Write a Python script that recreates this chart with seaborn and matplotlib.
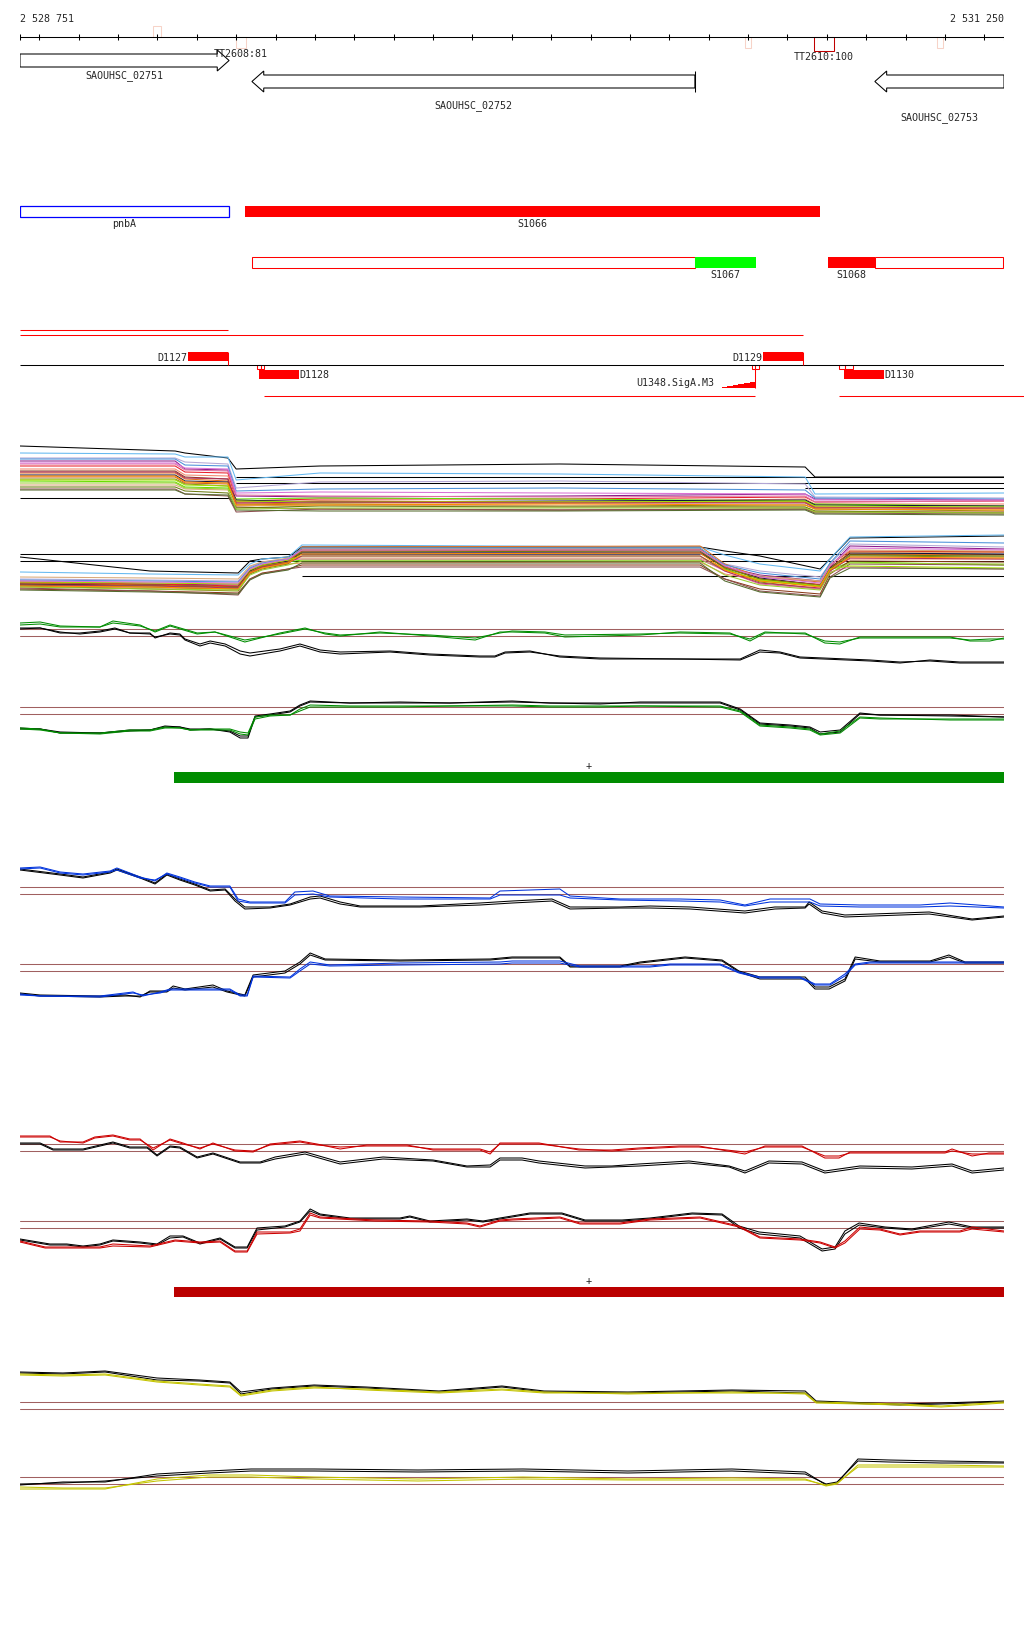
import matplotlib
matplotlib.use("Agg")
import matplotlib.pyplot as plt
from matplotlib.patches import Rectangle, Polygon
import numpy as np
import pandas as pd
import seaborn as sns

START, END = 2528751, 2531250

# ---------------- annotation data (bp) ----------------
term_labels = ["", "TT2608:81", "", "TT2610:100", ""]
term_start = [2529089, 2529300, 2530592, 2530767, 2531080]
term_end = [2529109, 2529325, 2530607, 2530818, 2531095]
term_strong = [False, False, False, True, False]

gene_names = ["SAOUHSC_02751", "SAOUHSC_02752", "SAOUHSC_02753"]
gene_start = [2528751, 2529340, 2530922]
gene_end = [2529282, 2530465, 2531250]
gene_strand = ["+", "-", "-"]

feat_names = ["pnbA", "S1066", "S1067", "S1068"]
feat_start = [2528751, 2529322, 2530465, 2530803]
feat_end = [2529282, 2530783, 2530620, 2530922]
feat_ext_start = [None, None, 2529340, 2530922]
feat_ext_end = [None, None, 2530465, 2531247]

seg_names = ["D1127", "D1128", "D1129", "D1130"]
seg_start = [2529178, 2529358, 2530638, 2530844]
seg_end = [2529279, 2529460, 2530740, 2530945]
seg_strand = ["+", "-", "+", "-"]
probe_start = [2529353, 2529362, 2530610, 2530618, 2530831, 2530846]
probe_end = [2529362, 2529371, 2530618, 2530628, 2530846, 2530866]

motif_name = "U1348.SigA.M3"
motif_pos = [2530519, 2530533, 2530547, 2530561, 2530575, 2530590, 2530604, 2530618]
motif_score = [0.05, 0.15, 0.3, 0.4, 0.55, 0.65, 0.9, 0.9]

tu_start = [2528751, 2528751, 2529371, 2530831]
tu_end = [2529279, 2530740, 2530618, 2531301]

bar_start, bar_end = 2529142, 2531250

# ---------------- expression panels (offset bp, log-signal) ----------------
a_x = [0, 394, 419, 528, 549, 762, 1371, 1994, 2019, 2499]
a_black = [53, 48, 46, 41, 30, 33, 35, 32, 22, 22]
a_lines = [
    [46, 45, 42, 42, 19, 26, 25, 22, 5, 6],
    [41, 41, 37, 35, 11, 17, 18, 15, 2, 1],
    [38, 38, 30, 29, 3, 2, 3, 5, 0, -1],
    [33, 33, 27, 26, -2, 0, 0, 2, -3, -2],
    [30, 30, 24, 23, -3, -2, -3, 0, -5, -5],
    [26, 26, 20, 18, -5, -4, -4, -3, -8, -10],
    [20, 20, 15, 13, -6, -5, -7, -6, -10, -12],
    [18, 17, 12, 11, 0, 1, 0, -2, -5, -7],
    [24, 24, 18, 17, -1, -3, -2, -1, -6, -7],
    [28, 28, 22, 20, -8, -10, -11, -10, -13, -13],
    [35, 35, 29, 28, 4, 3, 2, 3, -3, -2],
    [14, 14, 10, 9, -7, -6, -7, -8, -12, -13],
    [22, 22, 16, 15, -3, -2, -3, -3, -8, -9],
    [12, 12, 8, 6, -9, -7, -8, -8, -12, -14],
    [10, 10, 5, 3, -13, -10, -11, -10, -14, -15],
    [19, 19, 14, 13, -2, -3, -3, -2, -7, -8],
    [40, 40, 34, 33, 8, 10, 11, 9, 1, 0],
    [27, 27, 21, 20, -4, -3, -4, -4, -9, -9],
    [23, 23, 17, 16, -6, -6, -5, -6, -10, -11],
    [9, 9, 5, 4, -11, -12, -12, -11, -15, -16],
    [36, 36, 31, 30, 6, 7, 6, 5, -1, -1],
    [16, 16, 11, 10, -10, -9, -9, -9, -13, -14],
]
a_ref = [1, 22, 16, 11]
a_ref_from = [0, 549, 549, 1994]
a_ref_to = [533, 2499, 2499, 2499]

b_x = [0, 330, 554, 584, 615, 681, 716, 1727, 1790, 1879, 2032, 2057, 2108, 2499]
b_black = [2, -12, -14, -2, 0, 2, 12, 12, 8, 3, -10, 0, 21, 23]
b_lines = [
    [-13, -15, -16, -5, 0, 2, 14, 12, 4, -5, -12, 0, 22, 24],
    [-20, -21, -22, -8, -3, 0, 5, 5, -5, -12, -18, -5, 15, 12],
    [-24, -25, -26, -12, -6, -2, 7, 7, -8, -16, -22, -8, 13, 10],
    [-23, -25, -27, -11, -7, -1, 8, 9, -7, -20, -26, -6, 8, 7],
    [-28, -29, -30, -14, -9, -5, -4, -3, -15, -21, -25, -10, 0, 0],
    [-25, -26, -28, -12, -8, -3, 12, 13, -5, -18, -23, -8, 5, 4],
    [-27, -30, -32, -15, -10, -5, 9, 9, -10, -23, -30, -12, 3, 2],
    [-26, -27, -28, -13, -7, -3, -1, -1, -10, -22, -27, -11, -3, -6],
    [-25, -26, -28, -12, -6, -2, 6, 6, -8, -19, -26, -9, 6, 5],
    [-30, -32, -34, -20, -14, -10, -6, -6, -20, -30, -35, -15, -2, -3],
    [-22, -24, -25, -10, -5, -1, 0, 0, -12, -25, -30, -13, -8, -10],
    [-18, -19, -20, -7, -3, 1, 1, 1, -9, -17, -22, -6, 9, 8],
    [-24, -26, -28, -13, -7, -3, 10, 10, -8, -20, -26, -10, 7, 7],
    [-26, -28, -30, -14, -8, -4, 7, 8, -9, -20, -27, -10, 4, 3],
    [-29, -32, -36, -20, -15, -10, -8, -8, -20, -32, -37, -18, -5, -6],
    [-23, -24, -25, -11, -6, -1, 3, 3, -11, -21, -27, -10, -7, -9],
    [-21, -22, -23, -9, -4, 0, 11, 11, -6, -14, -20, -4, 18, 16],
    [-26, -27, -29, -14, -8, -4, 3, 3, -12, -24, -29, -12, 1, 0],
    [-27, -28, -30, -14, -9, -4, 5, 6, -11, -22, -28, -11, 2, 1],
    [-31, -33, -35, -21, -15, -11, -4, -4, -22, -33, -38, -19, -9, -10],
    [-22, -23, -24, -10, -5, 0, 9, 9, -7, -18, -24, -7, 11, 9],
    [-28, -30, -31, -16, -11, -6, -2, -2, -16, -26, -31, -14, -4, -5],
]
b_ref = [5, -2, -17]
b_ref_from = [0, 0, 716]
b_ref_to = [2499, 2499, 2499]

multi_colors = ["#63b8f0", "#b4a7d6", "#8b1a89", "#e8202a", "#f4866c", "#e07020",
                "#8a8a10", "#66dd00", "#101040", "#8b3a1a", "#e070a0", "#d8a878",
                "#c8641e", "#6b7a10", "#8c5050", "#a0e000", "#4a90d9", "#b03060",
                "#ff8c00", "#556b2f", "#da70d6", "#9acd32"]

c_xc = [0, 51, 102, 203, 236, 305, 343, 381, 450, 495, 571, 660, 724, 775, 813, 914, 1041, 1156,
        1219, 1250, 1333, 1384, 1575, 1676, 1803, 1854, 1892, 1994, 2044, 2082, 2133, 2362, 2413,
        2463, 2499]
c_col1 = [6, 7, 3, 2, 8, 4, -3, 3, -5, -3, -13, -4, 1, -5, -7, -3, -7, -11, -3, -3, -4, -8, -6,
          -3, -4, -12, -4, -4, -14, -15, -8, -8, -12, -12, -9]
c_col2 = [4, 5, 2, 2, 6, 3, -2, 4, -4, -3, -11, -5, 0, -4, -6, -4, -6, -9, -4, -2, -3, -6, -5,
          -4, -5, -10, -3, -5, -12, -13, -9, -9, -11, -10, -10]
c_xk = [0, 51, 102, 152, 203, 241, 279, 330, 343, 381, 406, 419, 457, 483, 521, 559, 584, 660, 711,
        762, 813, 940, 1041, 1168, 1206, 1232, 1295, 1371, 1473, 1676, 1829, 1879, 1930, 1981,
        2159, 2235, 2311, 2387, 2499]
c_blk1 = [1, 1, -4, -4, -2, 1, -4, -4, -9, -4, -5, -10, -15, -12, -15, -22, -24, -20, -15, -21,
          -23, -22, -25, -27, -27, -23, -22, -28, -30, -30, -31, -23, -24, -29, -32, -34, -31,
          -33, -33]
c_blk2 = [0, 1, -3, -5, -3, 0, -4, -5, -8, -5, -6, -11, -17, -14, -17, -25, -27, -22, -17, -23,
          -25, -23, -26, -28, -28, -24, -23, -27, -29, -30, -30, -21, -23, -28, -31, -33, -32,
          -34, -34]

d_x = [0, 51, 102, 203, 279, 330, 368, 406, 432, 483, 533, 559, 579, 597, 635, 686, 711, 737, 838,
       965, 1092, 1250, 1346, 1473, 1575, 1778, 1829, 1879, 1956, 2006, 2032, 2083, 2133, 2184,
       2362, 2499]
d_blk1 = [-22, -22, -26, -26, -23, -23, -19, -20, -23, -22, -24, -29, -29, -9, -7, -4, 2, 6, 4, 5,
          4, 6, 4, 3, 5, 5, -2, -16, -18, -20, -25, -23, -6, -8, -8, -10]
d_blk2 = [-21, -22, -25, -26, -24, -23, -20, -20, -22, -22, -25, -31, -31, -10, -8, -5, 1, 5, 4, 4,
          4, 5, 4, 4, 4, 4, -3, -17, -19, -21, -27, -25, -7, -8, -9, -10]
d_col1 = [-21, -22, -26, -26, -23, -23, -20, -21, -23, -22, -22, -25, -26, -10, -8, -8, -2, 2, 1,
          1, 1, 2, 1, 1, 1, 1, -4, -18, -20, -22, -27, -24, -10, -11, -13, -13]
d_col2 = [-22, -23, -26, -27, -24, -24, -21, -21, -23, -23, -23, -27, -28, -12, -9, -8, -4, 0, 0,
          0, 1, 1, 0, 0, 1, 0, -5, -19, -21, -23, -28, -26, -11, -12, -12, -12]

e_xc = [0, 51, 102, 160, 229, 246, 305, 343, 373, 406, 444, 483, 533, 554, 584, 673, 698, 744, 787,
        965, 1194, 1219, 1371, 1397, 1524, 1676, 1778, 1841, 1905, 2006, 2032, 2133, 2286, 2362,
        2499]
e_col1 = [19, 20, 15, 13, 16, 19, 10, 6, 14, 10, 5, 1, 1, -12, -15, -15, -5, -4, -9, -10, -11, -4,
          -2, -9, -12, -12, -13, -18, -12, -12, -17, -18, -18, -16, -20]
e_col2 = [18, 19, 14, 12, 15, 17, 9, 7, 13, 9, 4, 0, 0, -14, -16, -16, -8, -7, -10, -12, -12, -8,
          -8, -11, -13, -14, -15, -19, -15, -15, -19, -20, -20, -19, -21]
e_xk = [0, 102, 160, 229, 246, 305, 343, 373, 406, 444, 483, 521, 546, 571, 635, 686, 737, 762,
        813, 864, 1016, 1168, 1250, 1351, 1397, 1524, 1600, 1702, 1841, 1917, 1994, 2004, 2037,
        2095, 2309, 2418, 2499]
e_blk1 = [18, 13, 10, 15, 18, 10, 4, 13, 8, 3, -3, -2, -12, -20, -20, -17, -10, -9, -15, -19, -19,
          -16, -14, -12, -20, -20, -19, -20, -24, -20, -20, -15, -24, -28, -25, -32, -29]
e_blk2 = [17, 12, 9, 14, 17, 9, 3, 12, 7, 2, -4, -3, -14, -22, -21, -18, -12, -11, -17, -20, -20,
          -18, -16, -14, -22, -21, -21, -22, -26, -22, -21, -17, -26, -30, -27, -33, -30]

f_xk = [0, 51, 203, 267, 305, 330, 373, 389, 419, 490, 526, 571, 592, 673, 711, 737, 775, 965,
        1194, 1250, 1371, 1397, 1524, 1575, 1689, 1783, 1826, 1879, 1994, 2019, 2055, 2095, 2121,
        2184, 2311, 2359, 2400, 2499]
f_blk1 = [-29, -31, -32, -31, -33, -27, -27, -22, -25, -21, -27, -31, -11, -7, 2, 11, 5, 4, 5, 7,
          7, -2, -2, 2, 7, 4, -7, -13, -13, -23, -23, -15, 7, 3, 3, 9, 2, 2]
f_blk2 = [-30, -32, -33, -32, -32, -28, -28, -24, -26, -23, -28, -32, -13, -9, 0, 9, 4, 3, 4, 6,
          6, -3, -3, 1, 6, 3, -8, -15, -15, -25, -25, -17, 5, 2, 2, 7, 1, 1]
f_xc = [0, 51, 203, 287, 312, 356, 381, 533, 559, 577, 592, 686, 711, 737, 787, 965, 1219, 1250,
        1371, 1422, 1600, 1651, 1778, 1826, 1879, 1981, 2019, 2057, 2095, 2121, 2159, 2499]
f_col1 = [-30, -32, -32, -28, -32, -28, -25, -25, -31, -31, -12, -13, -5, 2, -1, 1, 2, 3, 3, -2,
          -2, 0, 0, -8, -13, -13, -20, -20, -10, 0, 2, 2]
f_col2 = [-31, -32, -33, -29, -31, -29, -26, -26, -32, -32, -13, -14, -7, 0, -2, -1, 0, 1, 1, -3,
          -3, -1, -1, -9, -14, -14, -21, -21, -12, -1, 1, 1]

g_xc = [0, 76, 102, 160, 190, 236, 279, 305, 338, 381, 414, 457, 490, 546, 592, 635, 711, 754,
        813, 881, 983, 1049, 1168, 1194, 1219, 1318, 1420, 1503, 1572, 1674, 1724, 1841, 1892,
        1986, 2044, 2080, 2108, 2349, 2367, 2418, 2461, 2499]
g_col1 = [8, 8, 2, 2, 7, 9, 5, 5, -6, 5, 1, -5, 1, -7, -8, 0, 3, 0, -5, -1, -1, -6, -6, -10, 1, 1,
          -6, -6, -4, -2, -2, -10, -2, -2, -14, -14, -8, -8, -5, -12, -9, -9]
g_col2 = [7, 7, 3, 1, 6, 8, 4, 4, -4, 4, 0, -4, 0, -6, -7, -1, 2, -1, -3, -2, -2, -5, -5, -8, 0, 0,
          -5, -7, -5, -3, -3, -8, -3, -3, -12, -12, -9, -9, -7, -10, -10, -10]
g_xk = [0, 51, 84, 160, 236, 279, 323, 348, 381, 406, 450, 490, 559, 610, 648, 724, 795, 813, 922,
        1049, 1135, 1194, 1219, 1275, 1318, 1435, 1503, 1572, 1699, 1801, 1841, 1902, 1986, 2044,
        2133, 2265, 2367, 2418, 2499]
g_blk1 = [1, 1, -5, -5, 2, -3, -3, -11, -2, -3, -13, -9, -18, -18, -13, -8, -16, -18, -13, -16,
          -22, -21, -14, -14, -17, -22, -22, -20, -17, -22, -27, -17, -18, -27, -22, -23, -20, -27,
          -24]
g_blk2 = [0, 0, -6, -6, 1, -4, -4, -12, -3, -4, -14, -10, -19, -19, -15, -10, -18, -20, -15, -17,
          -23, -23, -16, -16, -19, -24, -23, -22, -19, -23, -29, -19, -20, -29, -24, -25, -22, -29,
          -26]

h_xk = [0, 76, 119, 160, 203, 236, 305, 348, 381, 414, 457, 508, 546, 577, 602, 673, 711, 737, 762,
        838, 965, 990, 1041, 1135, 1176, 1219, 1295, 1376, 1435, 1529, 1600, 1707, 1783, 1826,
        1877, 1981, 2037, 2070, 2095, 2131, 2197, 2265, 2359, 2418, 2499]
h_blk1 = [-18, -23, -23, -25, -23, -19, -21, -23, -15, -15, -22, -17, -26, -26, -7, -5, 0, 12, 7,
          3, 3, 5, 0, 2, 0, 3, 8, 8, 1, 1, 3, 8, 7, -5, -11, -15, -28, -26, -10, -2, -6, -8, -1,
          -6, -6]
h_blk2 = [-19, -24, -24, -26, -24, -20, -22, -24, -17, -16, -23, -18, -27, -27, -9, -6, -1, 10, 6,
          2, 2, 4, -1, 1, -1, 2, 7, 7, 0, 0, 2, 7, 6, -7, -13, -17, -30, -28, -13, -4, -7, -9, -3,
          -7, -7]
h_xc = [0, 64, 203, 236, 330, 394, 457, 508, 546, 577, 602, 686, 711, 737, 762, 902, 1041, 1135,
        1168, 1219, 1250, 1371, 1422, 1524, 1600, 1727, 1826, 1879, 1981, 2032, 2070, 2095, 2133,
        2184, 2235, 2286, 2387, 2418, 2499]
h_col1 = [-20, -26, -26, -23, -25, -19, -21, -20, -30, -30, -11, -11, -8, 8, 4, 1, 0, -2, -5, 1, 2,
          4, -2, -2, 2, 4, -5, -16, -18, -21, -26, -20, -6, -8, -13, -10, -10, -6, -10]
h_col2 = [-21, -27, -27, -25, -26, -20, -22, -21, -31, -31, -13, -12, -10, 6, 3, 0, -1, -3, -6, 0,
          1, 3, -3, -3, 1, 3, -6, -17, -19, -22, -27, -22, -8, -9, -14, -11, -11, -8, -11]

i_x = [0, 109, 216, 348, 455, 533, 561, 640, 747, 879, 1064, 1224, 1331, 1544, 1808, 1994, 2022,
       2235, 2339, 2499]
i_blk1 = [30, 29, 31, 24, 22, 20, 10, 14, 17, 15, 11, 16, 11, 10, 12, 11, 1, -2, -1, 1]
i_blk2 = [29, 28, 30, 22, 21, 19, 8, 13, 16, 14, 10, 15, 10, 9, 11, 9, 0, -3, -2, 0]
i_col1 = [27, 26, 27, 20, 17, 15, 6, 11, 14, 13, 10, 13, 10, 8, 10, 8, -1, -3, -5, -1]
i_col2 = [28, 27, 28, 21, 18, 16, 7, 12, 15, 12, 9, 12, 9, 9, 9, 9, 0, -2, -4, 0]

j_x = [0, 109, 216, 348, 480, 587, 747, 1011, 1277, 1544, 1808, 1994, 2047, 2075, 2128, 2207, 2339,
       2499]
j_blk1 = [-8, -5, -5, 3, 6, 8, 8, 7, 8, 6, 8, 5, -8, -6, 18, 17, 16, 15]
j_blk2 = [-7, -6, -4, 1, 4, 6, 6, 5, 6, 4, 6, 3, -7, -5, 16, 15, 14, 14]
j_col1 = [-12, -12, -12, -2, 2, 2, 0, -2, 0, -2, -1, -2, -9, -7, 12, 12, 12, 11]
j_col2 = [-10, -11, -11, -4, 0, 0, -2, -4, -2, -3, -3, -3, -8, -6, 10, 10, 10, 10]

# ---------------- drawing ----------------
sns.set_theme(style="white")
plt.rcParams["font.family"] = ["DejaVu Sans Mono"]
FS = 7.2
LW = 0.75
W, H = 1024, 1640
X0, X1 = 20, 1004

fig = plt.figure(figsize=(W / 100, H / 100), dpi=100)

ann = fig.add_axes([X0 / W, 0, (X1 - X0) / W, 1])
ann.set_xlim(START, END)
ann.set_ylim(H, 0)
ann.axis("off")

# ruler
ann.hlines(38, START, END, color="black", lw=LW)
ticks = [START] + list(range(2528800, END, 100)) + [END]
ann.vlines(ticks, 35, 41, color="black", lw=LW)
ann.text(START, 19, f"{START:,}".replace(",", " "), fontsize=FS, ha="left", va="center")
ann.text(END, 19, f"{END:,}".replace(",", " "), fontsize=FS, ha="right", va="center")
for i, (s, e) in enumerate(zip(term_start, term_end)):
    if i == 0:
        top, h = 27, 11
    elif term_strong[i]:
        top, h = 38, 14
    else:
        top, h = 38, 11
    col = "#c00000" if term_strong[i] else "#f7d3c8"
    ann.add_patch(Rectangle((s, top), e - s, h, fill=False, ec=col, lw=LW))
    if term_labels[i]:
        ann.text((s + e) / 2, top + h + 5, term_labels[i], fontsize=FS, ha="center", va="center")

# genes
gene_rows = [(55, 68), (76, 89), (76, 89)]
label_rows = [76, 106, 118]
head = 30
for i, name in enumerate(gene_names):
    s, e = gene_start[i], gene_end[i]
    t, b = gene_rows[i]
    m = (t + b) / 2
    if gene_strand[i] == "+":
        pts = [(s, t), (e - head, t), (e - head, t - 4), (e, m), (e - head, b + 4), (e - head, b), (s, b)]
    else:
        pts = [(e, t), (s + head, t), (s + head, t - 4), (s, m), (s + head, b + 4), (s + head, b), (e, b)]
    ann.add_patch(Polygon(pts, closed=True, fc="white", ec="black", lw=LW))
    if i == 1:
        ann.vlines(e, t - 4, b + 4, color="black", lw=LW)
    ann.text((s + e) / 2, label_rows[i], name, fontsize=FS, ha="center", va="center")

# transcribed features
feat_rows = [207, 207, 258, 258]
for i, name in enumerate(feat_names):
    s, e = feat_start[i], feat_end[i]
    top = feat_rows[i]
    if feat_ext_start[i] is not None:
        ann.add_patch(Rectangle((feat_ext_start[i], top), feat_ext_end[i] - feat_ext_start[i], 11,
                                fill=False, ec="#ff0000", lw=LW))
    if name == "pnbA":
        ann.add_patch(Rectangle((s, top), e - s, 11, fill=False, ec="#0000ff", lw=LW * 1.2))
    else:
        fc = "#00ff00" if name == "S1067" else "#ff0000"
        ann.add_patch(Rectangle((s, top), e - s, 11, fc=fc, ec="none"))
    ann.text((s + e) / 2, top + 17, name, fontsize=FS, ha="center", va="center")

# transcription units
tu_rows = [331, 336, 397, 397]
for s, e, r in zip(tu_start, tu_end, tu_rows):
    ann.hlines(r, s, e, color="#ff0000", lw=LW, clip_on=False)
ann.hlines(366, START, END, color="black", lw=LW)

for i, name in enumerate(seg_names):
    s, e = seg_start[i], seg_end[i]
    if seg_strand[i] == "+":
        ann.add_patch(Rectangle((s, 353), e - s, 9, fc="#ff0000", ec="none"))
        ann.vlines(e, 353, 366, color="#ff0000", lw=LW)
        ann.text(s - 2, 358, name, fontsize=FS, ha="right", va="center")
    else:
        ann.add_patch(Rectangle((s, 371), e - s, 9, fc="#ff0000", ec="none"))
        ann.text(e, 375, name, fontsize=FS, ha="left", va="center")
for s, e in zip(probe_start, probe_end):
    ann.add_patch(Rectangle((s, 366), e - s, 4, fill=False, ec="#ff0000", lw=LW))

ann.fill_between(motif_pos, [389 - 7 * v for v in motif_score], 389, step="post",
                 color="#ff0000", lw=0)
ann.vlines(motif_pos[-1], 370, 389, color="#ff0000", lw=LW)
ann.text(motif_pos[0] - 5, 383, motif_name, fontsize=FS, ha="right", va="center")

# strand bars
for top, col in [(773, "#008c00"), (1288, "#bb0000")]:
    ann.add_patch(Rectangle((bar_start, top), bar_end - bar_start, 11 if top < 1000 else 10,
                            fc=col, ec="none"))
    ann.text((bar_start + bar_end) / 2, top - 7, "+", fontsize=FS, ha="center", va="center")


def panel(top, bottom, ref):
    ax = fig.add_axes([X0 / W, 1 - bottom / H, (X1 - X0) / W, (bottom - top) / H])
    ax.set_xlim(START, END)
    ax.set_ylim(ref - bottom, ref - top)
    ax.axis("off")
    return ax


def draw(ax, series, colors):
    frames = []
    for k, (xs, ys) in enumerate(series):
        frames.append(pd.DataFrame({"pos": START + np.asarray(xs), "value": ys, "series": f"s{k}"}))
    df = pd.concat(frames, ignore_index=True)
    pal = {f"s{k}": c for k, c in enumerate(colors)}
    sns.lineplot(data=df, x="pos", y="value", hue="series", palette=pal, estimator=None,
                 sort=False, legend=False, linewidth=LW, ax=ax)
    ax.set_xlim(START, END)
    ax.axis("off")


BROWN = "#a06060"

# panel A / B: many conditions
ax = panel(440, 520, 500)
for v, s, e in zip(a_ref, a_ref_from, a_ref_to):
    ax.hlines(v, START + s, START + e, color="black", lw=LW)
draw(ax, [(a_x, a_black)] + [(a_x, l) for l in a_lines], ["black"] + multi_colors)

ax = panel(525, 605, 560)
for v, s, e in zip(b_ref, b_ref_from, b_ref_to):
    ax.hlines(v, START + s, START + e, color="black", lw=LW)
draw(ax, [(b_x, b_black)] + [(b_x, l) for l in b_lines], ["black"] + multi_colors)

pairs = [
    ((615, 670, 630), [(c_xk, c_blk1), (c_xk, c_blk2), (c_xc, c_col1), (c_xc, c_col2)], "#008c00"),
    ((690, 745, 708), [(d_x, d_blk1), (d_x, d_blk2), (d_x, d_col1), (d_x, d_col2)], "#008c00"),
    ((860, 925, 888), [(e_xk, e_blk1), (e_xk, e_blk2), (e_xc, e_col1), (e_xc, e_col2)], "#0033dd"),
    ((945, 1005, 965), [(f_xk, f_blk1), (f_xk, f_blk2), (f_xc, f_col1), (f_xc, f_col2)], "#0033dd"),
    ((1125, 1180, 1145), [(g_xk, g_blk1), (g_xk, g_blk2), (g_xc, g_col1), (g_xc, g_col2)], "#cc0000"),
    ((1200, 1260, 1222), [(h_xk, h_blk1), (h_xk, h_blk2), (h_xc, h_col1), (h_xc, h_col2)], "#cc0000"),
    ((1360, 1415, 1403), [(i_x, i_blk1), (i_x, i_blk2), (i_x, i_col1), (i_x, i_col2)], "#c4c400"),
    ((1450, 1495, 1478), [(j_x, j_blk1), (j_x, j_blk2), (j_x, j_col1), (j_x, j_col2)], "#c4c400"),
]
for (top, bottom, ref), series, col in pairs:
    ax = panel(top, bottom, ref)
    ax.axhline(0, color=BROWN, lw=LW)
    ax.axhline(-7, color=BROWN, lw=LW)
    draw(ax, series, ["black", "black", col, col])

fig.savefig("out.png", dpi=100)
